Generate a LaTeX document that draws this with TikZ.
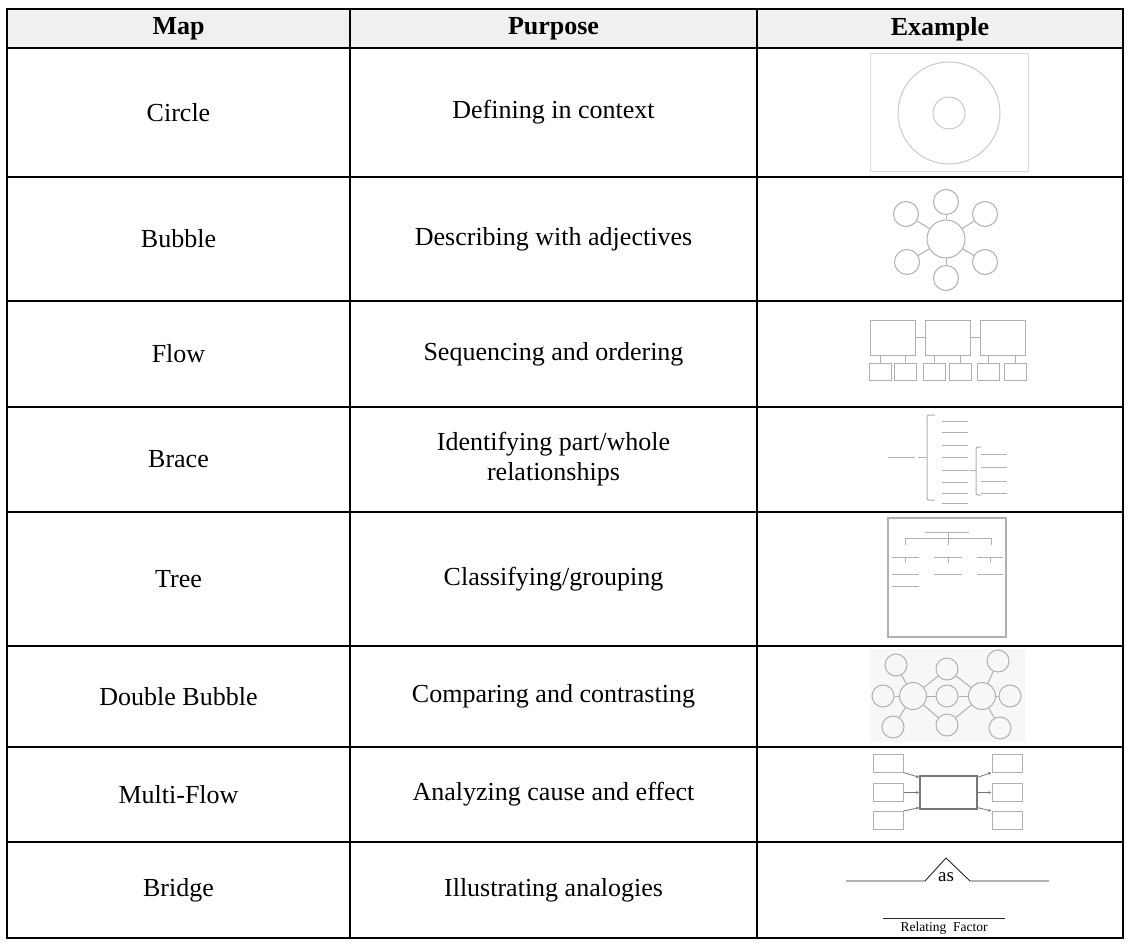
\documentclass[tikz,border=0pt]{standalone}
\usepackage{fontspec}
\setmainfont{Liberation Serif}
\usetikzlibrary{arrows.meta}
\definecolor{exgray}{HTML}{B0B0B0}
\definecolor{headbg}{HTML}{F0F0F0}
\definecolor{boxgray}{HTML}{DADADA}
\definecolor{dbbg}{HTML}{F7F7F7}
\definecolor{darkbox}{HTML}{777777}
\tikzset{
  grid/.style={line width=2pt, black, line cap=rect},
  cell/.style={font=\fontsize{26}{30}\selectfont, align=center, inner sep=0pt},
  head/.style={font=\fontsize{26}{30}\selectfont\bfseries, inner sep=0pt},
  ex/.style={draw=exgray, line width=1pt},
  excirc/.style={ex, circle, inner sep=0pt, minimum size=#1},
  exbox/.style={ex, rectangle, inner sep=0pt, minimum width=#1},
  arr/.style={-{Latex[length=3pt,width=3pt]}, draw=darkbox, line width=0.8pt},
}
\begin{document}
\begin{tikzpicture}[x=1pt,y=-1pt]
\useasboundingbox (0,0) rectangle (1133,944);
% header background
\fill[headbg] (7,9) rectangle (1123,48);
% grid
\foreach \y in {9,48,177,301,407,512,646,747,842,938}
  \draw[grid] (7,\y) -- (1123,\y);
\foreach \x in {7,350,757,1123}
  \draw[grid] (\x,9) -- (\x,938);
% header
\node[head] (h1) at (178.5,29) {Map};
\node[head] (h2) at (553.5,29) {Purpose};
\node[head] (h3) at (940,29) {Example};
% map column
\node[cell] (m1) at (178.5,112.5) {Circle};
\node[cell] (m2) at (178.5,239) {Bubble};
\node[cell] (m3) at (178.5,354) {Flow};
\node[cell] (m4) at (178.5,459.5) {Brace};
\node[cell] (m5) at (178.5,579) {Tree};
\node[cell] (m6) at (178.5,696.5) {Double Bubble};
\node[cell] (m7) at (178.5,794.5) {Multi-Flow};
\node[cell] (m8) at (178.5,890) {Bridge};
% purpose column
\node[cell] (p1) at (553.5,112.5) {Defining in context};
\node[cell] (p2) at (553.5,239) {Describing with adjectives};
\node[cell] (p3) at (553.5,354) {Sequencing and ordering};
\node[cell] (p4) at (553.5,459.5) {Identifying part/whole\\relationships};
\node[cell] (p5) at (553.5,579) {Classifying/grouping};
\node[cell] (p6) at (553.5,696.5) {Comparing and contrasting};
\node[cell] (p7) at (553.5,794.5) {Analyzing cause and effect};
\node[cell] (p8) at (553.5,890) {Illustrating analogies};

% ---- Circle example
\draw[draw=boxgray, line width=1pt] (870,54) rectangle (1028,172);
\node[excirc=102pt, draw=boxgray!80!gray] (cout) at (949,113) {};
\node[excirc=32pt, draw=boxgray!80!gray] (cin) at (949,113) {};

% ---- Bubble example
\node[excirc=38pt] (bc) at (946,239) {};
\node[excirc=25pt] (b1) at (946,202) {};
\node[excirc=25pt] (b2) at (906,214) {};
\node[excirc=25pt] (b3) at (985,214) {};
\node[excirc=25pt] (b4) at (907,262) {};
\node[excirc=25pt] (b5) at (985,262) {};
\node[excirc=25pt] (b6) at (946,278) {};
\foreach \n in {b1,b2,b3,b4,b5,b6} \draw[ex] (bc) -- (\n);

% ---- Flow example
\node[exbox=45pt, minimum height=35pt] (f1) at (892.5,337.5) {};
\node[exbox=45pt, minimum height=35pt] (f2) at (947.5,337.5) {};
\node[exbox=45pt, minimum height=35pt] (f3) at (1002.5,337.5) {};
\draw[ex] (f1.east) -- (f2.west);
\draw[ex] (f2.east) -- (f3.west);
\node[exbox=22pt, minimum height=17pt] (s1) at (880,371.5) {};
\node[exbox=22pt, minimum height=17pt] (s2) at (905.5,371.5) {};
\node[exbox=22pt, minimum height=17pt] (s3) at (934,371.5) {};
\node[exbox=22pt, minimum height=17pt] (s4) at (960.5,371.5) {};
\node[exbox=22pt, minimum height=17pt] (s5) at (988.5,371.5) {};
\node[exbox=22pt, minimum height=17pt] (s6) at (1015.5,371.5) {};
\draw[ex] (s1.north) -- (s1.north |- f1.south);
\draw[ex] (s2.north) -- (s2.north |- f1.south);
\draw[ex] (s3.north) -- (s3.north |- f2.south);
\draw[ex] (s4.north) -- (s4.north |- f2.south);
\draw[ex] (s5.north) -- (s5.north |- f3.south);
\draw[ex] (s6.north) -- (s6.north |- f3.south);

% ---- Brace example
\draw[ex] (888,457) -- (915,457);
\draw[ex] (918,457) -- (927,457);
\draw[ex, rounded corners=2pt] (935,415) -- (927,415) -- (927,500) -- (935,500);
\foreach \y in {421,432,445,457,470,482,493,503}
  \draw[ex] (942,\y) -- (968,\y);
\draw[ex] (969,470) -- (976,470);
\draw[ex, rounded corners=2pt] (981,447) -- (976,447) -- (976,495) -- (981,495);
\foreach \y in {454,467,481,493}
  \draw[ex] (981,\y) -- (1007,\y);

% ---- Tree example
\draw[ex, line width=1.3pt] (888,518) rectangle (1006,637);
\draw[ex] (925,532) -- (969,532);
\draw[ex] (948,532) -- (948,545);
\draw[ex] (905,545) -- (905,538) -- (991,538) -- (991,545);
\foreach \a/\b/\c in {892/919/905,934/962/948,977/1003/990}{
  \draw[ex] (\a,557) -- (\b,557);
  \draw[ex] (\c,557) -- (\c,563);
  \draw[ex] (\a,574) -- (\b,574);
}
\draw[ex] (892,586) -- (919,586);

% ---- Double bubble example
\fill[dbbg] (870,649) rectangle (1025,742);
\node[excirc=22pt] (tl) at (896,665) {};
\node[excirc=22pt] (tm) at (947,669) {};
\node[excirc=22pt] (tr) at (998,661) {};
\node[excirc=22pt] (fl) at (883,696) {};
\node[excirc=27pt] (bl) at (913,696) {};
\node[excirc=22pt] (cm) at (947,696) {};
\node[excirc=27pt] (br) at (982,696) {};
\node[excirc=22pt] (fr) at (1010,696) {};
\node[excirc=22pt] (dl) at (893,727) {};
\node[excirc=22pt] (dm) at (947,725) {};
\node[excirc=22pt] (dr) at (1000,728) {};
\foreach \n in {fl,cm,tl,dl,tm,dm} \draw[ex] (bl) -- (\n);
\foreach \n in {cm,fr,tr,dr,tm,dm} \draw[ex] (br) -- (\n);

% ---- Multi-flow example
\node[draw=darkbox, line width=1.3pt, rectangle, inner sep=0pt, minimum width=57pt, minimum height=33pt] (mc) at (948.5,792.5) {};
\node[exbox=30pt, minimum height=18pt] (l1) at (888,763) {};
\node[exbox=30pt, minimum height=18pt] (l2) at (888,792.5) {};
\node[exbox=30pt, minimum height=18pt] (l3) at (888,820.5) {};
\node[exbox=30pt, minimum height=18pt] (r1) at (1007,763) {};
\node[exbox=30pt, minimum height=18pt] (r2) at (1007,792.5) {};
\node[exbox=30pt, minimum height=18pt] (r3) at (1007,820.5) {};
\draw[arr] (l1.south east) -- ([yshift=-2pt]mc.north west);
\draw[arr] (l2.east) -- (mc.west);
\draw[arr] (l3.north east) -- ([yshift=2pt]mc.south west);
\draw[arr] ([yshift=-2pt]mc.north east) -- (r1.south west);
\draw[arr] (mc.east) -- (r2.west);
\draw[arr] ([yshift=2pt]mc.south east) -- (r3.north west);

% ---- Bridge example
\draw[line width=0.9pt, black!85] (846,881) -- (925,881) -- (946,858) -- (970,881) -- (1049,881);
\node[font=\fontsize{19}{22}\selectfont, inner sep=0pt] (as) at (946,877) {as};
\draw[line width=0.9pt, black!85] (883,918) -- (1005,918);
\node[font=\fontsize{13.5}{16}\selectfont, inner sep=0pt] (rf) at (944,928) {Relating\ \ Factor};
\end{tikzpicture}
\end{document}
